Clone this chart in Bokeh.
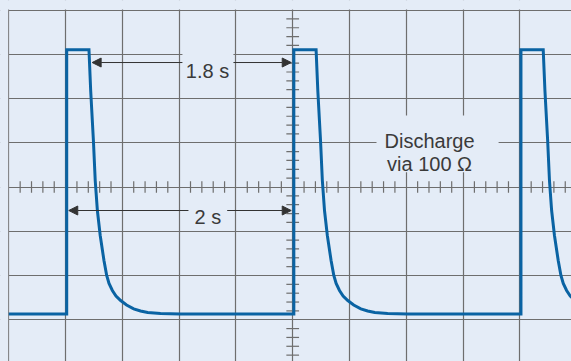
import numpy as np
from bokeh.plotting import figure
from bokeh.models import Range1d, Grid, FixedTicker, Arrow, NormalHead
from bokeh.core.properties import value
from bokeh.embed import file_html
from bokeh.resources import INLINE

# ---- data (time in s, 0.5 s/div; voltage in divisions) ----
pulse_starts = [0.51, 2.51, 4.51]
shape_dt = [0.0, 0.0, 0.196, 0.211, 0.235, 0.251, 0.270, 0.295, 0.328,
            0.352, 0.3725, 0.402, 0.434, 0.475, 0.527, 0.590, 0.650,
            0.713, 0.826, 1.0]
shape_v = [-2.871, 3.101, 3.101, 2.181, 1.051, 0.147, -0.531, -1.096, -1.661,
           -2.000, -2.181, -2.339, -2.464, -2.565, -2.667, -2.753, -2.803,
           -2.837, -2.859, -2.871]
low_level = -2.871

labels_text = ["1.8 s", "2 s", "Discharge", "via 100 \u03a9"]

BG = "#e4ecf7"
GRID = "#6e6e6e"
BLUE = "#0a63a3"
TXT = "#3a3a3a"
ARR = "#333333"

# build trace
tx = [0.0]
ty = [low_level]
for s in pulse_starts:
    for d, v in zip(shape_dt, shape_v):
        tx.append(s + d)
        ty.append(v)

p = figure(width=571, height=361, output_backend="svg", toolbar_location=None,
           x_range=Range1d(-0.0731, 4.955), y_range=Range1d(-3.944, 4.216),
           x_axis_type=None, y_axis_type=None, min_border=0,
           background_fill_color=BG, border_fill_color=BG,
           outline_line_color=None)

major_x = [i * 0.5 for i in range(0, 11)]
major_y = list(range(-4, 5))
p.add_layout(Grid(dimension=0, ticker=FixedTicker(ticks=major_x),
                  grid_line_color=GRID, grid_line_width=1.2))
p.add_layout(Grid(dimension=1, ticker=FixedTicker(ticks=major_y),
                  grid_line_color=GRID, grid_line_width=1.2))

# mask grid outside the screen's left / top border
p.quad(left=[-0.2, -0.2], right=[-0.0053, 5.2], top=[5.0, 5.0], bottom=[-5.0, 4.014],
       fill_color=BG, line_color=None)

# minor ticks along centre lines
mx = [round(t, 3) for t in np.arange(0.1, 5.0, 0.1) if abs(round(t / 0.5) * 0.5 - t) > 1e-6]
p.segment(x0=mx, y0=[-0.13] * len(mx), x1=mx, y1=[0.13] * len(mx),
          line_color=GRID, line_width=1.2)
my = [round(v, 3) for v in np.arange(-3.8, 4.0, 0.2) if abs(round(v) - v) > 1e-6]
p.segment(x0=[2.5 - 0.056] * len(my), y0=my, x1=[2.5 + 0.056] * len(my), y1=my,
          line_color=GRID, line_width=1.2)

# label background boxes
p.quad(left=[1.529, 1.582, 3.238], right=[1.978, 1.923, 4.313],
       top=[3.08, -0.30, 1.616], bottom=[2.52, -0.80, 0.335],
       fill_color=BG, line_color=None)

# trace
p.line(tx, ty, line_color=BLUE, line_width=3, line_join="miter")

# texts
p.text(x=[1.750, 1.753, 3.705, 3.705], y=[2.633, -0.689, 1.051, 0.509],
       text=labels_text, text_font=value("Liberation Sans"),
       text_font_size="20px", text_align="center",
       text_baseline="alphabetic", text_color=TXT)

# arrows
def arrow(x0, x1, y):
    p.add_layout(Arrow(end=NormalHead(size=9, fill_color=ARR, line_color=ARR, line_width=1),
                       x_start=x0, y_start=y, x_end=x1, y_end=y,
                       line_color=ARR, line_width=1))

arrow(1.529, 0.734, 2.814)
arrow(1.978, 2.487, 2.814)
arrow(1.582, 0.528, -0.531)
arrow(1.923, 2.487, -0.531)

html = file_html(p, INLINE)
html = html.replace("</head>", "<style>html,body{background-color:%s;}</style></head>" % BG, 1)
open("out.html", "w").write(html)
